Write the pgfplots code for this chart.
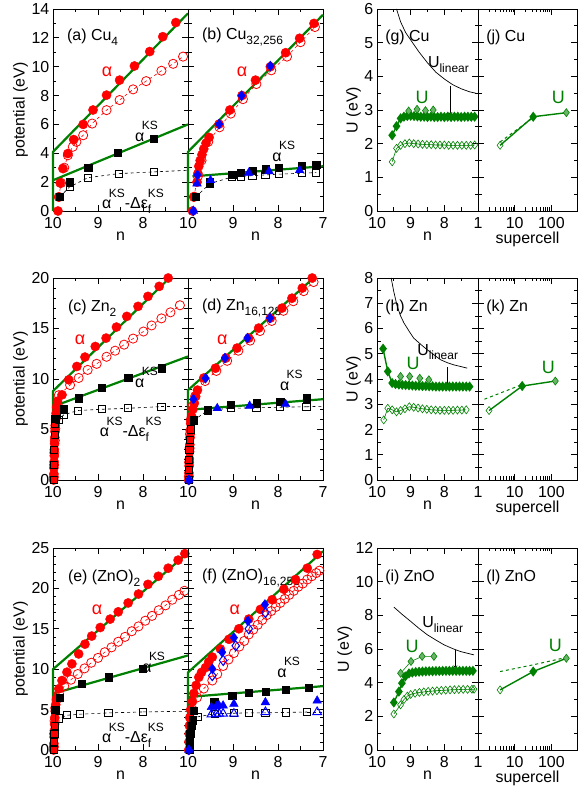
\documentclass[border=0pt]{standalone}
\usepackage{fontspec}
\setmainfont{Liberation Sans}
\usepackage{pgfplots}
\pgfplotsset{compat=1.18}
\definecolor{grn}{RGB}{0,128,0}
\definecolor{lgrn}{RGB}{105,180,105}
\newcommand\fs{\fontsize{16}{19}\selectfont}
\newcommand\sps[1]{\kern-2.5bp\raisebox{0.75em}{\fontsize{12}{12}\selectfont #1}}
\newcommand\sbs[1]{\raisebox{-0.3em}{\fontsize{12}{12}\selectfont #1}}
\newcommand\akdf{α\sps{KS}-Δε\makebox[0pt][l]{\sbs{f}}\raisebox{0.75em}{\fontsize{12}{12}\selectfont KS}}
\tikzset{lab/.style={font=\fs, inner sep=0pt}}
\pgfplotsset{
 base/.style={scale only axis, clip=false, tick align=inside,
   axis line style={line width=0.8bp}, every tick/.style={black,line width=0.7bp},
   major tick length=6bp, minor tick length=3.5bp,
   tick label style={font=\fs, inner sep=0bp}, label style={font=\fs},
   xticklabel style={yshift=-6bp}, yticklabel style={xshift=-3.5bp},
   /pgf/number format/assume math mode=true, anchor=south west},
 nax/.style={base, x dir=reverse, xmin=7, xmax=10, xtick={7,8,9,10}, minor x tick num=1, xlabel={n}},
 sax/.style={base, xmin=1, xmax=500, xtick={1,10,100}, xticklabels={1,10,100}, xlabel={supercell}, yticklabels={}},
 gl/.style={grn, line width=2.2bp},
 rf/.style={only marks, mark=*, mark size=4.6bp, red, mark options={fill=red}},
 ro/.style={red, dashed, line width=0.6bp, mark=o, mark size=4.6bp, mark options={solid, line width=0.8bp}},
 bf/.style={only marks, mark=square*, mark size=3.6bp, black},
 bo/.style={black, dashed, line width=0.6bp, mark=square, mark size=3.6bp, mark options={solid, line width=0.8bp}},
 bd/.style={only marks, mark=diamond*, mark size=5bp, blue},
 bdo/.style={only marks, mark=diamond, mark size=5bp, blue, mark options={line width=1bp}},
 bt/.style={only marks, mark=triangle*, mark size=5bp, blue},
 bto/.style={only marks, mark=triangle, mark size=5bp, blue, mark options={line width=1bp}},
 gf/.style={grn, line width=1.4bp, mark=diamond*, mark size=4bp},
 go/.style={grn, line width=0.6bp, mark=diamond, mark size=4bp, mark options={fill=white}},
 gp/.style={grn, line width=0.6bp, mark=diamond*, mark size=4bp, mark options={fill=lgrn}},
 ul/.style={black, line width=0.7bp},
}
\begin{document}
\begin{tikzpicture}[x=1bp,y=1bp]
\useasboundingbox (0,0) rectangle (581,797);

% ---------------- (a) Cu4
\begin{axis}[nax, at={(53bp,586bp)}, width=135bp, height=202bp, ymin=0, ymax=14, ytick={0,2,...,14}, minor y tick num=1, xticklabels={{},8,9,10}, ylabel={potential (eV)}]
\addplot[rf] coordinates {(9.89,0)(9.87,0.97)(9.84,1.94)(9.78,2.94)(9.67,3.98)(9.54,4.95)(9.33,6.0)(9.11,7.0)(8.81,8.03)(8.52,9.07)(8.19,10.05)(7.85,11.05)(7.56,12.08)(7.27,13.06)};
\addplot[ro] coordinates {(9.87,0.97)(9.82,1.94)(9.75,3.0)(9.67,3.86)(9.56,4.45)(9.48,4.79)(9.33,5.25)(9.13,6.06)(8.81,6.99)(8.52,7.69)(8.22,8.43)(7.93,9.0)(7.59,9.72)(7.33,10.2)(7.11,10.7)};
\addplot[bf] coordinates {(9.85,0.97)(9.63,2.0)(9.22,3.0)(8.56,4.03)(7.76,5.0)};
\addplot[bo] coordinates {(9.85,0.97)(9.63,1.67)(9.22,2.31)(8.54,2.59)(7.76,2.71)};
\addplot[black, dashed, line width=0.6bp] coordinates {(7.76,2.71)(7,2.82)};
\addplot[gl] coordinates {(10,0)(10,4.1)(7,13.7)};
\addplot[gl] coordinates {(10,2.13)(7,6.0)};
\node[lab, anchor=west] at (axis cs:9.69,12.06) {(a) Cu\sbs{4}};
\node[lab, red] at (axis cs:8.8,9.63) {\fontsize{18}{18}\selectfont α};
\node[lab, anchor=base west] at (axis cs:8.18,4.85) {α\sps{KS}};
\node[lab, anchor=base west] at (axis cs:8.91,0.14) {\akdf};
\end{axis}

% ---------------- (b) Cu32,256
\begin{axis}[nax, at={(188bp,586bp)}, width=135bp, height=202bp, ymin=0, ymax=14, ytick={0,2,...,14}, minor y tick num=1, yticklabels={}]
\addplot[rf] coordinates {(9.9,0)(9.86,1.0)(9.8,2.0)(9.78,2.6)(9.76,3.1)(9.73,3.5)(9.69,3.9)(9.65,4.3)(9.6,4.7)(9.53,5.1)(9.31,6.02)(9.07,7.0)(8.8,8.0)(8.5,9.07)(8.17,10.0)(7.83,10.97)(7.52,11.97)(7.2,13.0)};
\addplot[ro] coordinates {(9.87,0.97)(9.78,2.4)(9.7,3.5)(9.55,4.8)(9.3,5.8)(9.05,6.75)(8.78,7.75)(8.48,8.8)(8.15,9.75)(7.8,10.7)(7.5,11.7)(7.18,12.75)};
\addplot[bo] coordinates {(9.83,0.97)(9.51,1.9)(9.02,2.36)(8.83,2.4)(8.57,2.45)(8.28,2.5)(7.98,2.55)(7.47,2.62)(7.15,2.66)};
\addplot[bf] coordinates {(9.83,0.97)(9.51,2.0)(9.02,2.52)(8.83,2.64)(8.57,2.78)(8.28,2.9)(7.98,3.0)(7.47,3.13)(7.15,3.2)};
\addplot[bt] coordinates {(9.88,0)(9.8,1.9)(9.5,2.13)(8.65,2.64)(8.2,2.75)(7.52,2.82)};
\addplot[bd] coordinates {(9.88,0)(9.79,2.5)(9.31,6.02)(8.81,7.99)(8.17,10.05)};
\addplot[gl] coordinates {(10,0)(10,4.1)(7,13.6)};
\addplot[gl] coordinates {(9.9,2.4)(7,3.1)};
\node[lab, anchor=west] at (axis cs:9.69,12.06) {(b) Cu\sbs{32,256}};
\node[lab, red] at (axis cs:8.8,9.63) {\fontsize{18}{18}\selectfont α};
\node[lab, anchor=base west] at (axis cs:8.13,3.4) {α\sps{KS}};
\end{axis}

% ---------------- (g) Cu U(n)
\begin{axis}[nax, at={(377bp,586bp)}, width=101bp, height=202bp, ymin=0, ymax=6, ytick={0,...,6}, minor y tick num=1, xticklabels={{},8,9,10}, ylabel={U (eV)}]
\addplot[ul] coordinates {(9.42,6.0)(9.3,5.62)(9.15,5.3)(9.0,5.08)(8.75,4.72)(8.5,4.4)(8.25,4.12)(8.0,3.92)(7.75,3.75)(7.5,3.63)(7.25,3.54)(7.07,3.5)};
\addplot[black, line width=0.7bp, -stealth] coordinates {(7.82,3.72)(7.82,2.82)};
\addplot[go] coordinates {(9.55,1.46)(9.42,1.86)(9.3,1.95)(9.17,2.0)(9.04,2.02)(8.91,2.0)(8.78,1.99)(8.65,1.98)(8.52,1.97)(8.39,1.97)(8.26,1.96)(8.13,1.96)(8.0,1.96)(7.87,1.95)(7.74,1.95)(7.61,1.95)(7.48,1.95)(7.35,1.95)(7.22,1.95)(7.1,1.96)};
\addplot[gf] coordinates {(9.55,2.25)(9.42,2.52)(9.3,2.75)(9.2,2.8)(9.1,2.82)(9.0,2.83)(8.9,2.82)(8.8,2.81)(8.7,2.8)(8.6,2.8)(8.5,2.79)(8.4,2.8)(8.3,2.79)(8.2,2.79)(8.1,2.8)(8.0,2.79)(7.9,2.8)(7.8,2.79)(7.7,2.8)(7.6,2.8)(7.5,2.79)(7.4,2.8)(7.3,2.8)(7.2,2.8)(7.1,2.8)};
\addplot[gp, only marks] coordinates {(9.06,2.97)(8.81,3.02)(8.56,2.98)(8.33,3.0)};
\node[lab, anchor=west] at (axis cs:9.76,5.17) {(g) Cu};
\node[lab, anchor=base west] at (axis cs:8.49,4.25) {U\sbs{linear}};
\node[lab, grn] at (axis cs:8.66,3.36) {\fontsize{18}{18}\selectfont U};
\end{axis}

% ---------------- (j) Cu supercell
\begin{semilogxaxis}[sax, at={(478bp,586bp)}, width=99bp, height=202bp, ymin=0, ymax=6, ytick={0,...,6}, minor y tick num=1]
\addplot[grn, dashed, line width=1bp] coordinates {(4,2.05)(30,2.75)};
\addplot[grn, line width=1.4bp] coordinates {(4,1.95)(32,2.8)(256,2.92)};
\addplot[go, only marks] coordinates {(4,1.95)};
\addplot[gf, only marks] coordinates {(32,2.8)};
\addplot[gp, only marks] coordinates {(256,2.92)};
\node[lab, anchor=west] at (axis cs:1.67,5.17) {(j) Cu};
\node[lab, grn] at (axis cs:156,3.36) {\fontsize{18}{18}\selectfont U};
\end{semilogxaxis}

% ---------------- (c) Zn2
\begin{axis}[nax, at={(53bp,317bp)}, width=135bp, height=202bp, ymin=0, ymax=20, ytick={0,5,...,20}, minor y tick num=4, xticklabels={{},8,9,10}, ylabel={potential (eV)}]
\addplot[rf] coordinates {(9.985,0)(9.98,0.6)(9.98,1.2)(9.975,1.8)(9.97,2.4)(9.97,3.0)(9.965,3.6)(9.96,4.2)(9.955,4.8)(9.95,5.4)(9.94,6.0)(9.93,6.6)(9.92,7.2)(9.9,7.8)(9.8,8.43)(9.65,9.92)(9.47,11.24)(9.29,12.17)(9.06,13.22)(8.82,14.05)(8.59,15.14)(8.36,16.2)(8.11,17.19)(7.89,18.18)(7.64,19.17)(7.44,20.0)};
\addplot[ro] coordinates {(9.98,0.3)(9.975,1.5)(9.97,2.7)(9.96,3.9)(9.95,5.1)(9.93,6.3)(9.9,7.5)(9.87,8.4)(9.62,9.4)(9.43,10.1)(9.23,10.9)(9.03,11.5)(8.81,12.2)(8.62,12.8)(8.42,13.4)(8.22,14.0)(7.99,14.7)(7.81,15.3)(7.59,16.0)(7.39,16.6)(7.18,17.3)};
\addplot[bo] coordinates {(9.985,0)(9.98,1.5)(9.975,3)(9.965,4.5)(9.95,5.6)(9.87,5.95)(9.76,6.45)(9.45,6.88)(8.92,7.0)(8.33,7.1)(7.59,7.27)};
\addplot[black, dashed, line width=0.6bp] coordinates {(7.59,7.27)(7,7.27)};
\addplot[bf] coordinates {(9.95,6.1)(9.76,7.0)(9.43,8.1)(8.92,9.1)(8.33,10.15)(7.59,11.07)};
\addplot[gl] coordinates {(10,0)(10,8.8)(7.41,20)};
\addplot[gl] coordinates {(10,7.27)(7,12.23)};
\node[lab, anchor=west] at (axis cs:9.67,17.0) {(c) Zn\sbs{2}};
\node[lab, red] at (axis cs:9.4,13.86) {\fontsize{18}{18}\selectfont α};
\node[lab, anchor=base west] at (axis cs:8.18,9.2) {α\sps{KS}};
\node[lab, anchor=base west] at (axis cs:8.96,4.26) {\akdf};
\end{axis}

% ---------------- (d) Zn16,128
\begin{axis}[nax, at={(188bp,317bp)}, width=135bp, height=202bp, ymin=0, ymax=20, ytick={0,5,...,20}, minor y tick num=4, yticklabels={}]
\addplot[rf] coordinates {(9.985,0)(9.98,0.7)(9.975,1.4)(9.97,2.1)(9.965,2.8)(9.96,3.5)(9.955,4.2)(9.95,4.9)(9.94,5.6)(9.92,6.3)(9.89,7.0)(9.86,7.6)(9.83,8.26)(9.79,8.9)(9.65,10.1)(9.39,11.07)(9.16,12.07)(8.91,13.06)(8.65,14.05)(8.43,15.04)(8.17,16.03)(7.91,17.02)(7.69,18.0)(7.46,19.0)(7.24,20.0)};
\addplot[ro] coordinates {(9.98,0.35)(9.975,1.75)(9.965,3.15)(9.955,4.55)(9.94,5.95)(9.9,7.3)(9.84,8.3)(9.62,9.8)(9.37,10.8)(9.13,11.8)(8.88,12.8)(8.62,13.8)(8.4,14.75)(8.14,15.75)(7.88,16.75)(7.66,17.7)(7.43,18.7)(7.21,19.6)};
\addplot[bo] coordinates {(9.985,0)(9.98,1)(9.975,2)(9.97,3)(9.96,4)(9.94,5)(9.87,5.9)(9.56,6.9)(9.05,7.1)(8.48,7.15)(7.95,7.2)(7.37,7.25)};
\addplot[black, dashed, line width=0.6bp] coordinates {(7.37,7.25)(7,7.3)};
\addplot[bf] coordinates {(9.87,5.95)(9.56,6.94)(9.05,7.44)(8.48,7.6)(7.95,7.77)(7.37,8.1)};
\addplot[bt] coordinates {(9.98,0)(9.35,7.1)(8.63,7.34)(7.83,7.5)};
\addplot[bd] coordinates {(9.98,0)(9.88,8.0)(9.61,10.08)(9.18,12.07)(8.68,14.05)(8.18,16.03)};
\addplot[gl] coordinates {(10,0)(10,8.9)(7.21,20)};
\addplot[gl] coordinates {(10,6.94)(7,8.0)};
\node[lab, anchor=west] at (axis cs:9.69,17.0) {(d) Zn\sbs{16,128}};
\node[lab, red] at (axis cs:9.24,13.86) {\fontsize{18}{18}\selectfont α};
\node[lab, anchor=base west] at (axis cs:7.96,8.9) {α\sps{KS}};
\end{axis}

% ---------------- (h) Zn U(n)
\begin{axis}[nax, at={(377bp,317bp)}, width=101bp, height=202bp, ymin=0, ymax=8, ytick={0,...,8}, minor y tick num=1, xticklabels={{},8,9,10}, ylabel={U (eV)}]
\addplot[ul] coordinates {(9.58,8.0)(9.5,7.45)(9.4,6.88)(9.3,6.5)(9.2,6.22)(9.05,5.9)(8.91,5.62)(8.7,5.37)(8.51,5.16)(8.3,4.95)(8.11,4.76)(7.9,4.64)(7.72,4.56)(7.5,4.49)(7.32,4.43)};
\addplot[black, line width=0.7bp, -stealth] coordinates {(7.91,4.47)(7.91,3.7)};
\addplot[go] coordinates {(9.8,2.38)(9.68,2.84)(9.55,2.78)(9.42,2.7)(9.3,2.75)(9.17,2.82)(9.04,2.9)(8.91,2.88)(8.78,2.85)(8.65,2.82)(8.52,2.8)(8.39,2.78)(8.26,2.77)(8.13,2.76)(8.0,2.76)(7.87,2.76)(7.74,2.76)(7.61,2.77)(7.48,2.77)(7.35,2.78)};
\addplot[gf] coordinates {(9.82,5.2)(9.68,4.3)(9.55,3.84)(9.45,3.8)(9.35,3.78)(9.25,3.77)(9.15,3.76)(9.05,3.75)(8.95,3.74)(8.85,3.73)(8.75,3.73)(8.65,3.72)(8.55,3.72)(8.45,3.71)(8.35,3.71)(8.25,3.7)(8.15,3.7)(8.05,3.7)(7.95,3.7)(7.85,3.7)(7.75,3.7)(7.65,3.7)(7.55,3.7)(7.45,3.7)(7.35,3.7)(7.25,3.7)};
\addplot[gp, only marks] coordinates {(9.3,4.1)(9.03,4.1)(8.73,4.03)(8.46,3.97)};
\node[lab, anchor=west] at (axis cs:9.76,6.85) {(h) Zn};
\node[lab, anchor=base west] at (axis cs:8.81,4.95) {U\sbs{linear}};
\node[lab, grn] at (axis cs:8.93,4.6) {\fontsize{18}{18}\selectfont U};
\end{axis}

% ---------------- (k) Zn supercell
\begin{semilogxaxis}[sax, at={(478bp,317bp)}, width=99bp, height=202bp, ymin=0, ymax=8, ytick={0,...,8}, minor y tick num=1]
\addplot[grn, dashed, line width=1bp] coordinates {(1.5,3.2)(16,3.78)};
\addplot[grn, line width=1.4bp] coordinates {(2,2.75)(16,3.72)(128,3.92)};
\addplot[go, only marks] coordinates {(2,2.75)};
\addplot[gf, only marks] coordinates {(16,3.72)};
\addplot[gp, only marks] coordinates {(128,3.92)};
\node[lab, anchor=west] at (axis cs:1.67,6.85) {(k) Zn};
\node[lab, grn] at (axis cs:83,4.47) {\fontsize{18}{18}\selectfont U};
\end{semilogxaxis}

% ---------------- (e) (ZnO)2
\begin{axis}[nax, at={(53bp,47bp)}, width=135bp, height=202bp, ymin=0, ymax=25, ytick={0,5,...,25}, minor y tick num=4, xticklabels={{},8,9,10}, ylabel={potential (eV)}]
\addplot[rf] coordinates {(9.985,0)(9.98,0.8)(9.975,1.6)(9.97,2.4)(9.965,3.2)(9.96,4.0)(9.95,4.8)(9.94,5.6)(9.92,6.4)(9.87,7.58)(9.8,8.6)(9.69,9.63)(9.58,10.66)(9.43,11.89)(9.29,13.1)(9.14,14.1)(8.95,15.16)(8.73,16.2)(8.55,17.1)(8.33,18.2)(8.1,19.3)(7.89,20.5)(7.66,21.5)(7.44,22.5)(7.22,23.5)(7.07,24.3)};
\addplot[ro] coordinates {(9.98,0.4)(9.975,2.0)(9.965,3.6)(9.95,5.2)(9.92,6.2)(9.87,7.0)(9.75,7.9)(9.6,8.7)(9.45,9.4)(9.3,10.1)(9.15,10.8)(9.0,11.4)(8.85,12.1)(8.7,12.7)(8.55,13.4)(8.4,14.0)(8.25,14.7)(8.1,15.3)(7.95,16.0)(7.8,16.6)(7.65,17.3)(7.5,17.9)(7.35,18.6)(7.2,19.2)(7.08,19.7)};
\addplot[bo] coordinates {(9.985,0)(9.98,1)(9.97,2)(9.96,3)(9.87,3.9)(9.69,4.3)(9.4,4.43)(8.77,4.59)(8.0,4.71)};
\addplot[black, dashed, line width=0.6bp] coordinates {(8.0,4.71)(7,4.8)};
\addplot[bf] coordinates {(9.95,5.0)(9.85,6.5)(9.36,8.2)(8.77,9.0)(8.0,10.04)};
\addplot[gl] coordinates {(10,0)(10,10)(7,24.4)};
\addplot[gl] coordinates {(10,6.97)(7,11.7)};
\node[lab, anchor=west] at (axis cs:9.67,21.3) {(e) (ZnO)\sbs{2}};
\node[lab, red] at (axis cs:9.02,17.3) {\fontsize{18}{18}\selectfont α};
\node[lab, anchor=base west] at (axis cs:8.02,9.65) {α\sps{KS}};
\node[lab, anchor=base west] at (axis cs:8.91,0.87) {\akdf};
\end{axis}

% ---------------- (f) (ZnO)16,256
\begin{axis}[nax, at={(188bp,47bp)}, width=135bp, height=202bp, ymin=0, ymax=25, ytick={0,5,...,25}, minor y tick num=4, yticklabels={}]
\addplot[rf] coordinates {(9.985,0)(9.98,1)(9.975,2)(9.97,3)(9.96,4)(9.94,5)(9.9,6.0)(9.87,7.0)(9.82,8.0)(9.76,9.0)(9.7,9.6)(9.61,10.2)(9.54,10.9)(9.46,11.5)(9.28,12.5)(9.09,13.7)(8.87,15.0)(8.65,16.2)(8.39,17.4)(8.13,18.6)(7.87,19.9)(7.61,21.1)(7.35,22.5)(7.13,24.2)};
\addplot[ro] coordinates {(9.9,5.0)(9.8,6.5)(9.65,7.6)(9.46,8.6)(9.35,9.4)(9.22,10.4)(9.1,11.2)(8.98,12.0)(8.86,12.8)(8.75,13.5)(8.65,14.3)(8.55,14.9)(8.45,15.5)(8.35,16.1)(8.25,16.7)(8.15,17.2)(8.05,17.7)(7.95,18.2)(7.85,18.7)(7.75,19.2)(7.65,19.7)(7.55,20.2)(7.45,20.6)(7.35,21.1)(7.25,21.5)(7.15,21.9)(7.08,22.2)};
\addplot[bo] coordinates {(9.79,4.1)(9.4,4.5)(8.98,4.55)(8.65,4.6)(8.28,4.6)(7.83,4.65)(7.35,4.7)};
\addplot[black, dashed, line width=0.6bp] coordinates {(7.35,4.7)(7,4.7)};
\addplot[bf] coordinates {(9.97,0)(9.96,1)(9.95,2)(9.93,3)(9.9,3.7)(9.87,4.9)(9.42,5.94)(9.02,6.76)(8.65,7.1)(8.28,7.25)(7.83,7.46)(7.32,7.7)};
\addplot[bto] coordinates {(9.48,4.4)(9.37,4.45)(9.31,4.5)(9.22,4.5)(8.98,4.5)(8.28,4.7)(7.13,4.7)};
\addplot[bt] coordinates {(9.98,0)(9.48,5.3)(9.37,5.4)(9.31,5.5)(9.22,5.5)(8.98,5.7)(8.28,5.9)(7.13,6.1)};
\addplot[bdo] coordinates {(9.46,9.2)(9.22,11.1)(8.94,12.9)(8.65,15.0)(8.28,17.0)};
\addplot[bd] coordinates {(9.98,0)(9.46,10.04)(9.24,12.1)(8.98,13.9)(8.67,15.98)(8.29,18.0)};
\addplot[gl] coordinates {(10,0)(10,9.6)(7,24.6)};
\addplot[gl] coordinates {(10,6.56)(7,7.9)};
\node[lab, anchor=west] at (axis cs:9.69,21.3) {(f) (ZnO)\sbs{16,256}};
\node[lab, red] at (axis cs:8.96,17.3) {\fontsize{18}{18}\selectfont α};
\node[lab, anchor=base west] at (axis cs:8.02,9.0) {α\sps{KS}};
\end{axis}

% ---------------- (i) ZnO U(n)
\begin{axis}[nax, at={(377bp,47bp)}, width=101bp, height=202bp, ymin=0, ymax=12, ytick={0,2,...,12}, minor y tick num=1, xticklabels={{},8,9,10}, ylabel={U (eV)}]
\addplot[ul] coordinates {(9.5,8.49)(9.25,8.05)(9.0,7.64)(8.75,7.22)(8.51,6.85)(8.25,6.53)(8.01,6.25)(7.75,6.02)(7.52,5.85)(7.3,5.74)(7.12,5.65)};
\addplot[black, line width=0.7bp, -stealth] coordinates {(7.67,5.95)(7.67,4.8)};
\addplot[go] coordinates {(9.5,2.14)(9.3,2.68)(9.2,3.0)(9.1,3.2)(9.0,3.3)(8.87,3.37)(8.74,3.42)(8.61,3.45)(8.48,3.48)(8.35,3.5)(8.22,3.52)(8.09,3.54)(7.96,3.55)(7.83,3.57)(7.7,3.58)(7.57,3.59)(7.44,3.6)(7.31,3.6)(7.18,3.61)(7.12,3.61)};
\addplot[gf] coordinates {(9.5,2.82)(9.35,3.47)(9.26,3.97)(9.16,4.37)(9.05,4.55)(8.95,4.6)(8.85,4.63)(8.75,4.65)(8.65,4.66)(8.55,4.67)(8.45,4.68)(8.35,4.68)(8.25,4.69)(8.15,4.69)(8.05,4.7)(7.95,4.7)(7.85,4.7)(7.75,4.7)(7.65,4.7)(7.55,4.7)(7.45,4.7)(7.35,4.7)(7.25,4.7)(7.15,4.7)};
\addplot[gp] coordinates {(9.3,4.56)(8.99,5.26)(8.66,5.56)(8.31,5.56)};
\node[lab, anchor=west] at (axis cs:9.76,10.28) {(i) ZnO};
\node[lab, anchor=base west] at (axis cs:8.66,7.25) {U\sbs{linear}};
\node[lab, grn] at (axis cs:8.96,6.18) {\fontsize{18}{18}\selectfont U};
\end{axis}

% ---------------- (l) ZnO supercell
\begin{semilogxaxis}[sax, at={(478bp,47bp)}, width=99bp, height=202bp, ymin=0, ymax=12, ytick={0,2,...,12}, minor y tick num=1]
\addplot[grn, dashed, line width=1bp] coordinates {(4,4.66)(32,5.06)(256,5.5)};
\addplot[grn, line width=1.4bp] coordinates {(4,3.57)(32,4.66)(256,5.45)};
\addplot[go, only marks] coordinates {(4,3.57)};
\addplot[gf, only marks] coordinates {(32,4.66)};
\addplot[gp, only marks] coordinates {(256,5.45)};
\node[lab, anchor=west] at (axis cs:1.67,10.28) {(l) ZnO};
\node[lab, grn] at (axis cs:129,6.24) {\fontsize{18}{18}\selectfont U};
\end{semilogxaxis}
\end{tikzpicture}
\end{document}
